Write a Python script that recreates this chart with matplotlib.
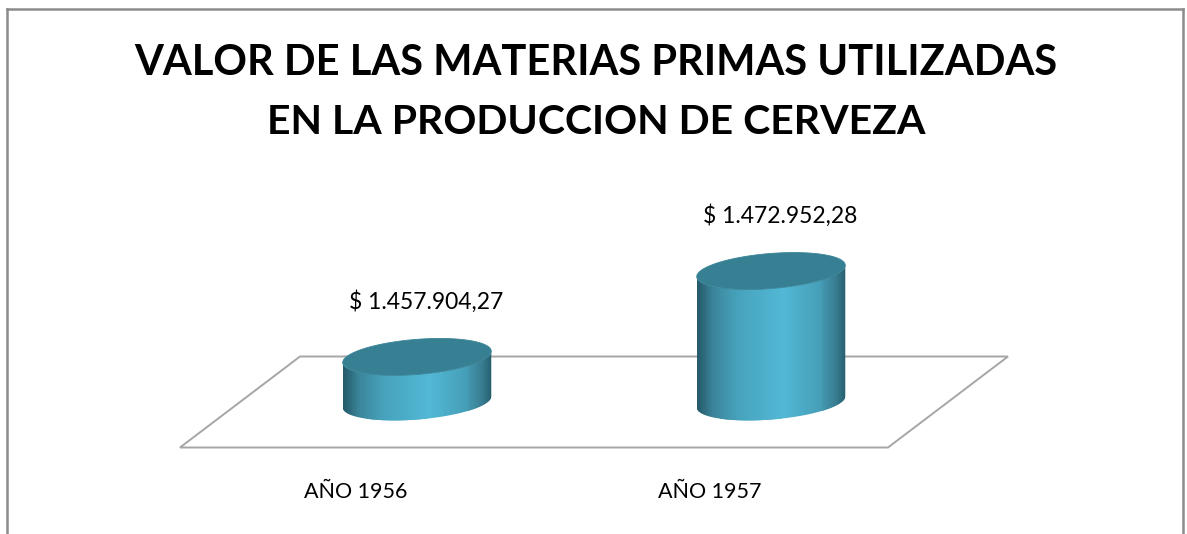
import numpy as np
import matplotlib
matplotlib.use('Agg')
import matplotlib.pyplot as plt
from matplotlib.patches import Polygon
from matplotlib.collections import PolyCollection
from matplotlib.lines import Line2D
from matplotlib.transforms import IdentityTransform
from matplotlib.colors import LinearSegmentedColormap

## DATOS ##
categorias = ['AÑO 1956', 'AÑO 1957']
valores = [1457904.27, 1472952.28]
etiquetas = ['$ 1.457.904,27', '$ 1.472.952,28']
titulo1 = 'VALOR DE LAS MATERIAS PRIMAS UTILIZADAS'
titulo2 = 'EN LA PRODUCCION DE CERVEZA'
y_min, y_max = 1450000, 1475000
## DATOS ##

W, H = 1187, 534
fuente = 'Lato'

fig = plt.figure(figsize=(W / 100, H / 100), dpi=100)
fig.patch.set_facecolor('white')

# area del grafico (piso en y_min)
ax = fig.add_axes([240 / W, 132 / H, 708 / W, 142.7 / H])
ax.set_xlim(-0.5, len(categorias) - 0.5)
ax.set_ylim(y_min, y_max)
ax.axis('off')
fig.canvas.draw()

ident = IdentityTransform()

def a_px(x, y):
    return ax.transData.transform((x, y))

## PISO ##
prof = np.array([60.0, 45.5])
pi = a_px(-0.5, y_min)
pd = a_px(len(categorias) - 0.5, y_min)
piso = [pi + prof, pd + prof, pd - prof, pi - prof]
ax.add_patch(Polygon(piso, closed=True, facecolor='white', edgecolor='#a6a6a6',
                     lw=1.4, transform=ident, clip_on=False, zorder=1))

## CILINDROS ##
a, b, ang = 74.5, 17.5, np.deg2rad(4.6)
t_r = np.arctan2(-b * np.sin(ang), a * np.cos(ang))

def elipse(c, t):
    x = a * np.cos(t)
    y = b * np.sin(t)
    return np.column_stack([c[0] + x * np.cos(ang) - y * np.sin(ang),
                            c[1] + x * np.sin(ang) + y * np.cos(ang)])

grad = LinearSegmentedColormap.from_list('cil', [
    (0.00, '#245a69'), (0.10, '#3a8499'), (0.28, '#47a3bd'),
    (0.58, '#52b8d5'), (0.82, '#469fb8'), (0.94, '#387c90'), (1.00, '#27606f')])

for i, v in enumerate(valores):
    base = a_px(i, y_min)
    tope = a_px(i, v)
    t_arco = np.linspace(np.pi + t_r, 2 * np.pi + t_r, 120)
    lado = np.vstack([elipse(base, t_arco), elipse(tope, t_arco[::-1])])
    lado_patch = Polygon(lado, closed=True, transform=ident)

    x0, x1 = lado[:, 0].min(), lado[:, 0].max()
    y0, y1 = lado[:, 1].min() - 2, lado[:, 1].max() + 2
    n = 150
    xs = np.linspace(x0, x1, n + 1)
    franjas = [[(xs[k], y0), (xs[k + 1] + 0.6, y0), (xs[k + 1] + 0.6, y1), (xs[k], y1)]
               for k in range(n)]
    col = PolyCollection(franjas, facecolors=grad((xs[:-1] - x0) / (x1 - x0)),
                         edgecolors='none', transform=ident, zorder=2)
    col.set_clip_path(lado_patch)
    ax.add_collection(col, autolim=False)

    tapa = elipse(tope, np.linspace(0, 2 * np.pi, 200))
    ax.add_patch(Polygon(tapa, closed=True, facecolor='#377f92', edgecolor='#3a8598',
                         lw=0.6, transform=ident, clip_on=False, zorder=3))

    ax.annotate(etiquetas[i], xy=(i, v), xytext=(9, 55), textcoords='offset pixels',
                ha='center', va='center', fontsize=16.5, family=fuente,
                color='black', annotation_clip=False)
    ax.annotate(categorias[i], xy=(i, y_min), xytext=(-61, -90), textcoords='offset pixels',
                ha='center', va='center', fontsize=15.5, family=fuente,
                color='black', annotation_clip=False)

## TITULO ##
fig.text(596 / W, 1 - 75 / H, titulo1, ha='center', va='baseline',
         fontsize=30, fontweight='bold', family=fuente)
fig.text(596 / W, 1 - 134 / H, titulo2, ha='center', va='baseline',
         fontsize=29.5, fontweight='bold', family=fuente)

## MARCO ##
marco = dict(color='#8c8c8c', lw=1.8, transform=ident, solid_capstyle='projecting')
fig.add_artist(Line2D([7, 7], [0, H - 9], **marco))
fig.add_artist(Line2D([7, W - 4], [H - 9, H - 9], **marco))
fig.add_artist(Line2D([W - 4, W - 4], [0, H - 9], **marco))

fig.savefig('out.png', dpi=100)
